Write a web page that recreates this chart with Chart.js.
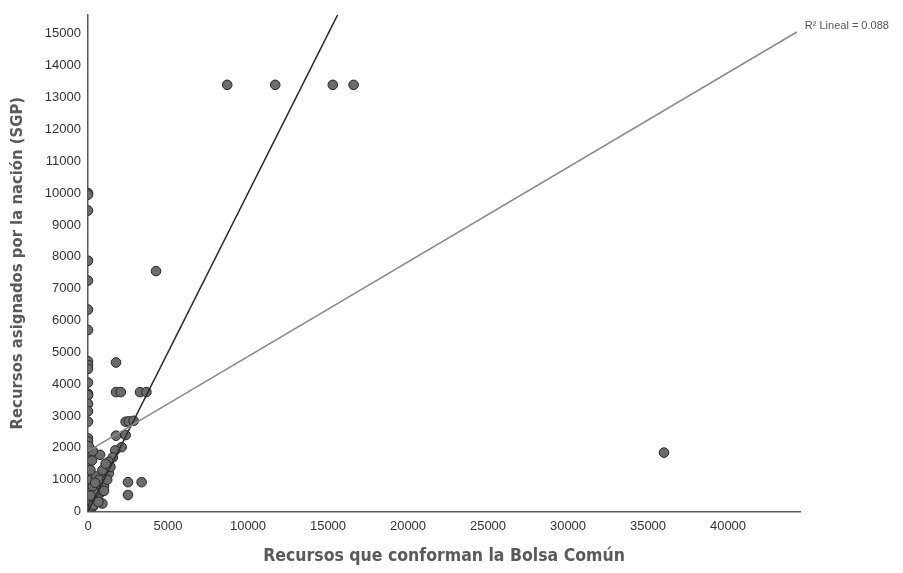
<!DOCTYPE html>
<html>
<head>
<meta charset="utf-8">
<script src="https://cdn.jsdelivr.net/npm/chart.js@4/dist/chart.umd.min.js"></script>
<style>
  html, body { margin: 0; padding: 0; background: #fff; }
  #wrap { width: 903px; height: 573px; }
</style>
</head>
<body>
<div id="wrap"><canvas id="c" width="903" height="573"></canvas></div>
<script>
// Recursos que conforman la Bolsa Común (x) vs Recursos asignados por la nación, SGP (y)
const bolsaComun = [
  0, 0, 0, 0, 0, 0, 0, 0, 0, 0, 0, 0, 0, 0, 0, 0,
  0, 0, 0, 0, 0, 0, 0, 0, 0, 0, 0, 0, 0, 0, 0, 0,
  8700, 11700, 15300, 16600, 4250, 36000,
  1750, 1750, 2050, 3250, 3650,
  2350, 2550, 2850, 1750, 2350,
  2100, 1700, 1550, 1300, 1100, 750,
  2500, 3350, 2500, 900,
  100, 200, 300, 400, 500, 600, 700, 800, 900, 1000, 1100, 1200,
  1300, 1000, 800, 600, 400, 300, 200, 500, 150, 350, 700, 1200,
  1400, 900, 1100, 150, 250, 300, 50, 450, 650, 1000
];
const sgpNacion = [
  10000, 9950, 9450, 7875, 7250, 6340, 5700, 4720, 4600, 4480, 4050, 3700, 3650, 3380, 3150, 2820,
  2300, 2200, 2000, 1900, 1750, 1600, 1400, 1200, 1050, 900, 750, 600, 450, 300, 150, 50,
  13400, 13400, 13400, 13400, 7550, 1850,
  4680, 3750, 3750, 3750, 3750,
  2820, 2830, 2850, 2380, 2400,
  2020, 1920, 1700, 1560, 1400, 1780,
  920, 920, 520, 250,
  100, 250, 150, 350, 500, 650, 750, 850, 950, 1050, 1150, 1250,
  1200, 800, 600, 400, 600, 800, 1000, 1100, 500, 200, 1000, 1000,
  1400, 1300, 1500, 1300, 1600, 1900, 2050, 900, 300, 650
];

const xTicks = [0, 5000, 10000, 15000, 20000, 25000, 30000, 35000, 40000];
const yTicks = [0, 1000, 2000, 3000, 4000, 5000, 6000, 7000, 8000, 9000, 10000,
  11000, 12000, 13000, 14000, 15000];

// fit line for the whole sample (R² lineal = 0.088) and the diagonal reference
const fitLineX = [0, 44300];
const fitLineY = [1900, 15060];
const refLineX = [0, 15600];
const refLineY = [0, 15600];
const r2Label = "R\u00B2 Lineal = 0.088";

const X_MAX = 44500;
const Y_MAX = 15600;

const toPoints = (xs, ys) => xs.map((x, i) => ({ x, y: ys[i] }));
const useTicks = (values) => (scale) => {
  scale.ticks = values.map((value) => ({ value }));
};

const r2Plugin = {
  id: "r2Label",
  afterDatasetsDraw(chart) {
    const { ctx, scales } = chart;
    const px = scales.x.getPixelForValue(fitLineX[1]) + 8;
    const py = scales.y.getPixelForValue(fitLineY[1]) - 6;
    ctx.save();
    ctx.font = "11px 'Liberation Sans', Arial, sans-serif";
    ctx.fillStyle = "#555";
    ctx.textAlign = "left";
    ctx.textBaseline = "middle";
    ctx.fillText(r2Label, px, py);
    ctx.restore();
  },
};

const tickFont = { family: "'Liberation Sans', Arial, sans-serif", size: 13 };
const titleFamily = "'DejaVu Sans Condensed', 'Liberation Sans Narrow', sans-serif";

new Chart(document.getElementById("c"), {
  type: "scatter",
  data: {
    datasets: [
      {
        label: "Municipios",
        data: toPoints(bolsaComun, sgpNacion),
        backgroundColor: "#6b6b6b",
        borderColor: "#262626",
        borderWidth: 1,
        pointRadius: 4.8,
        clip: 0,
        order: 2,
      },
      {
        label: "Total",
        type: "line",
        data: toPoints(fitLineX, fitLineY),
        borderColor: "#8a8a8a",
        borderWidth: 1.5,
        pointRadius: 0,
        fill: false,
        order: 1,
      },
      {
        label: "Referencia",
        type: "line",
        data: toPoints(refLineX, refLineY),
        borderColor: "#2b2b2b",
        borderWidth: 1.5,
        pointRadius: 0,
        fill: false,
        order: 1,
      },
    ],
  },
  options: {
    responsive: false,
    animation: false,
    layout: { padding: { top: 10, right: 103, bottom: 0, left: 0 } },
    plugins: {
      legend: { display: false },
      tooltip: { enabled: false },
    },
    scales: {
      x: {
        type: "linear",
        min: 0,
        max: X_MAX,
        afterFit(scale) { scale.height = 61.5; },
        afterBuildTicks: useTicks(xTicks),
        grid: { display: false, drawTicks: false },
        border: { display: true, color: "#5a5a5a", width: 1.5 },
        ticks: {
          color: "#333",
          font: tickFont,
          padding: 7,
          maxRotation: 0,
          autoSkip: false,
          callback: (v) => String(v),
        },
        title: {
          display: true,
          text: "Recursos que conforman la Bolsa Común",
          color: "#5a5a5a",
          font: { family: titleFamily, size: 17.5, weight: "bold" },
          padding: { top: 0, bottom: 6 },
        },
      },
      y: {
        type: "linear",
        min: 0,
        max: Y_MAX,
        afterFit(scale) { scale.width = 88; },
        afterBuildTicks: useTicks(yTicks),
        grid: { display: false, drawTicks: false },
        border: { display: true, color: "#5a5a5a", width: 1.5 },
        ticks: {
          color: "#333",
          font: tickFont,
          padding: 7,
          autoSkip: false,
          callback: (v) => String(v),
        },
        title: {
          display: true,
          text: "Recursos asignados por la nación (SGP)",
          color: "#5a5a5a",
          font: { family: titleFamily, size: 16.5, weight: "bold" },
          padding: { top: 8, bottom: 0 },
        },
      },
    },
  },
  plugins: [r2Plugin],
});
</script>
</body>
</html>
